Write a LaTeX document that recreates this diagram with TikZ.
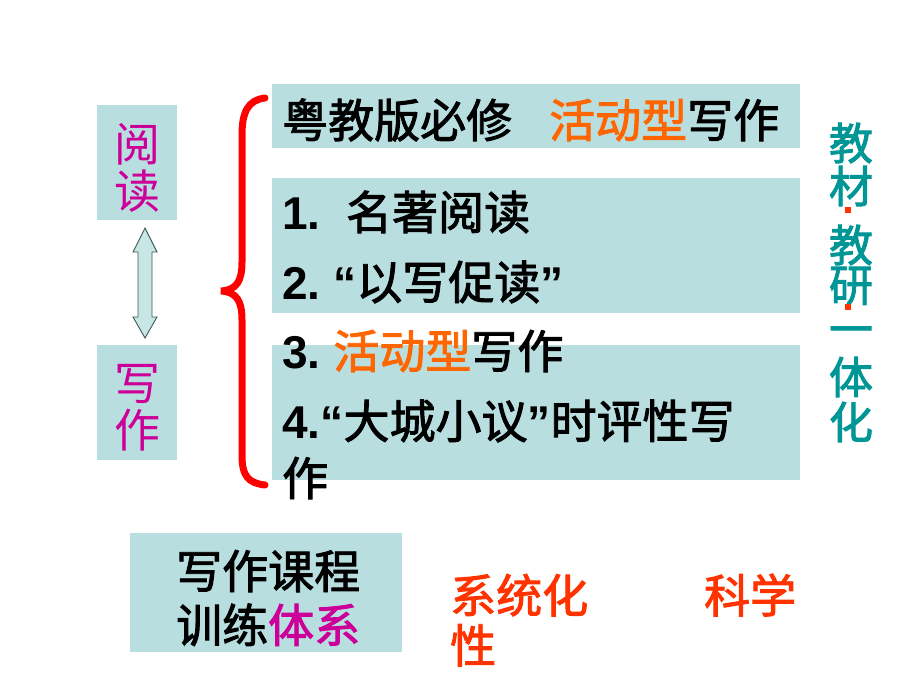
\documentclass[tikz,border=0pt]{standalone}
\usepackage{fontspec}
\setmainfont{Liberation Sans}
\newfontfamily\cjk{Noto Sans CJK SC}
\newfontfamily\cjkb{Noto Sans CJK SC}[FakeBold=2]
\newfontfamily\latb{Liberation Sans Bold}
\usetikzlibrary{calc}
\definecolor{boxc}{RGB}{185,222,224}
\definecolor{arrc}{RGB}{200,230,228}
\definecolor{arrl}{RGB}{60,90,90}
\definecolor{mag}{RGB}{204,0,153}
\definecolor{orn}{RGB}{255,102,0}
\definecolor{redo}{RGB}{255,51,0}
\definecolor{teal2}{RGB}{0,150,150}
\definecolor{bred}{RGB}{255,0,0}
\begin{document}
\begin{tikzpicture}[x=1pt,y=-1pt,
  box/.style={fill=boxc, draw=none, inner sep=0pt, anchor=north west},
  txt/.style={inner sep=0pt, anchor=west, font={\fontsize{46}{50}\selectfont}},
  vch/.style={inner sep=0pt, text=teal2, font={\fontsize{44}{44}\selectfont\cjkb}},
  vdot/.style={inner sep=0pt, fill=redo, draw=none, minimum size=6.5pt},
]
\fill[white] (0,0) rectangle (920,690);
\useasboundingbox (0,0) rectangle (920,690);

% boxes
\node[box, minimum width=528pt, minimum height=64pt] (b1) at (272,84) {};
\node[box, minimum width=528pt, minimum height=135pt] (b2) at (272,178) {};
\node[box, minimum width=528pt, minimum height=135pt] (b3) at (272,345) {};
\node[box, minimum width=80pt, minimum height=115pt] (rd) at (97,105) {};
\node[box, minimum width=80pt, minimum height=115pt] (wr) at (97,345) {};
\node[box, minimum width=272pt, minimum height=119pt] (kc) at (130,533) {};

% left vertical texts
\node[inner sep=0pt, align=center, text=mag, font={\fontsize{46}{47}\selectfont\cjk}] (rdt) at (137,168) {阅\\读};
\node[inner sep=0pt, align=center, text=mag, font={\fontsize{46}{47}\selectfont\cjk}] (wrt) at (137,408) {写\\作};

% double arrow between reading and writing
\draw[fill=arrc, draw=arrl, line width=0.9pt, line join=miter]
  (145,228) -- (157,252) -- (152,252) -- (152,317) -- (157,317) -- (145,338)
  -- (133,317) -- (138,317) -- (138,252) -- (133,252) -- cycle;

% red brace
\draw[bred, line width=7pt, line cap=round]
  (265,98) .. controls (248,100) and (242,112) .. (242,135) -- (242,262)
  .. controls (242,282) and (236,290) .. (221,291)
  .. controls (236,292) and (242,300) .. (242,320) -- (242,455)
  .. controls (242,476) and (248,483) .. (265,485);

% box texts
\node[txt] (t1) at (282,120) {\cjkb 粤教版必修\hspace{37pt}\textcolor{orn}{活动型}写作};
\node[txt] (t2) at (282,212) {\latb 1.\ \ {\cjkb 名著阅读}};
\node[txt] (t3) at (282,282) {\latb 2.\ “{\cjkb 以写促读}”};
\node[txt] (t4) at (282,351) {\latb 3.\ {\cjkb \textcolor{orn}{活动型}写作}};
\node[txt] (t5) at (282,421) {\latb 4.“{\cjkb 大城小议}”{\cjkb 时评性写}};
\node[txt] (t6) at (282,478) {\cjkb 作};

% right vertical text
\node[vch] (v1) at (851,143) {教};
\node[vch] (v2) at (851,186) {材};
\node[vdot] (d1) at (848,210) {};
\node[vch] (v3) at (851,245) {教};
\node[vch] (v4) at (851,286) {研};
\node[vdot] (d2) at (848,307) {};
\node[vch] (v5) at (851,336) {一};
\node[vch] (v6) at (851,377) {体};
\node[vch] (v7) at (851,422) {化};

% bottom
\node[inner sep=0pt, anchor=west, align=left, font={\fontsize{46}{54}\selectfont\cjkb}] (kct) at (176,598)
  {写作课程\\训练\textcolor{mag}{体系}};
\node[inner sep=0pt, anchor=west, align=left, text=redo, font={\fontsize{46}{50}\selectfont\cjkb}] (sys) at (450,620)
  {系统化\hspace{116pt}科学\\性};
\end{tikzpicture}
\end{document}
